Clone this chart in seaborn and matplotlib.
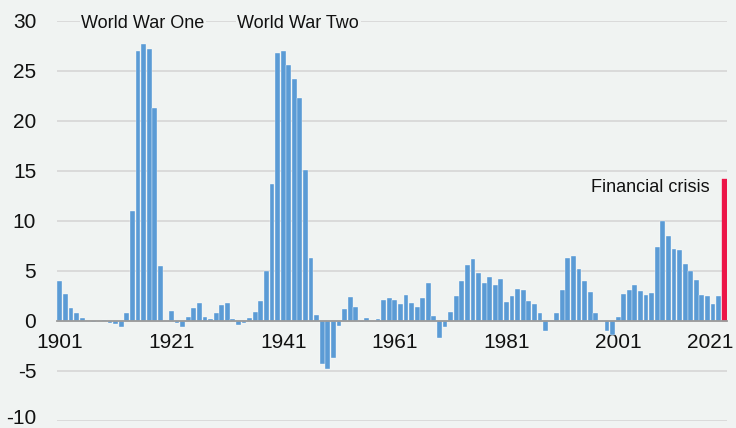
import pandas as pd
import seaborn as sns
import matplotlib.pyplot as plt
from matplotlib.transforms import ScaledTranslation

# UK-style borrowing, % of GDP, one bar per year, last year highlighted
years = list(range(1901, 2021))
deficit = [
    4.0, 2.75, 1.3, 0.8, 0.35, 0.0, -0.1, 0.0, 0.1, -0.2,
    -0.3, -0.55, 0.8, 11.0, 27.0, 27.7, 27.2, 21.3, 5.5, 0.0,
    1.0, -0.23, -0.63, 0.43, 1.33, 1.83, 0.43, 0.23, 0.83, 1.6,
    1.83, 0.23, -0.43, -0.23, 0.33, 0.9, 2.03, 5.03, 13.7, 26.8,
    27.0, 25.6, 24.2, 22.3, 15.1, 6.3, 0.6, -4.25, -4.75, -3.65,
    -0.45, 1.2, 2.4, 1.4, -0.12, 0.3, 0.0, 0.22, 2.15, 2.35,
    2.1, 1.7, 2.65, 1.85, 1.4, 2.35, 3.85, 0.5, -1.65, -0.58,
    0.9, 2.5, 4.0, 5.6, 6.2, 4.8, 3.83, 4.42, 3.65, 4.25,
    1.95, 2.52, 3.18, 3.08, 2.0, 1.68, 0.78, -1.03, 0.0, 0.78,
    3.08, 6.28, 6.48, 5.23, 3.98, 2.9, 0.78, 0.0, -1.03, -1.35,
    0.4, 2.7, 3.15, 3.6, 3.0, 2.62, 2.8, 7.42, 10.0, 8.5,
    7.2, 7.1, 5.68, 5.02, 4.08, 2.62, 2.5, 1.7, 2.5, 14.25,
]
highlight_year = 2020

tick_years = [1901, 1921, 1941, 1961, 1981, 2001]
end_label = "2021"
y_ticks = [-10, -5, 0, 5, 10, 15, 20, 25, 30]

notes = ["World War One", "World War Two", "Financial crisis"]
note_x = [1915.9, 1943.7, 2006.7]
note_y = [29.8, 29.8, 13.4]

bg = "#f0f3f2"
blue = "#5b9bd5"
red = "#ec1548"

df = pd.DataFrame({"year": years, "value": deficit})
df["kind"] = ["last" if y == highlight_year else "normal" for y in years]

sns.set_style("white", {"axes.facecolor": bg, "figure.facecolor": bg})
plt.rcParams["font.family"] = ["Liberation Sans", "DejaVu Sans"]
plt.rcParams["axes.unicode_minus"] = False

fig = plt.figure(figsize=(7.36, 4.28), dpi=100)
ax = fig.add_axes([57 / 736, 7 / 428, 670 / 736, 400 / 428])

sns.barplot(data=df, x="year", y="value", hue="kind",
            palette={"normal": blue, "last": red}, native_scale=True,
            saturation=1, dodge=False, width=0.88, edgecolor="white",
            linewidth=0.25, legend=False, ax=ax)
for p in ax.patches:
    if p.get_facecolor()[0] > 0.8:
        p.set_edgecolor(red)

ax.set_xlim(1900.5, 2020.5)
ax.set_ylim(-10, 30)
ax.set_yticks(y_ticks)
ax.set_xticks(tick_years)
ax.set_xticklabels([str(y) for y in tick_years])
ax.set_xlabel("")
ax.set_ylabel("")

ax.yaxis.grid(True, color="#d8d8d8", lw=1.3)
ax.set_axisbelow(True)
for s in ["left", "top", "right"]:
    ax.spines[s].set_visible(False)
ax.spines["bottom"].set_position(("data", 0))
ax.spines["bottom"].set_color("#9a9a9a")
ax.spines["bottom"].set_linewidth(1.3)
ax.spines["bottom"].set_zorder(3)

ax.tick_params(axis="y", length=0, pad=15, labelsize=15, labelcolor="#111111")
ax.tick_params(axis="x", length=0, pad=9, labelsize=15, labelcolor="#111111")

# bottom label sits on the figure edge, lift it a touch so it isn't clipped
low = ax.get_yticklabels()[0]
low.set_transform(low.get_transform() + ScaledTranslation(0, 3 / 72, fig.dpi_scale_trans))

ax.text(2021.6, -1.25, end_label, ha="right", va="top", fontsize=15,
        color="#111111", clip_on=False)

for t, x, y in zip(notes, note_x, note_y):
    ax.text(x, y, t, ha="center", va="center", fontsize=13, color="#111111",
            bbox=dict(facecolor=bg, edgecolor="none", pad=1))

fig.savefig("out.png", dpi=100, facecolor=bg)
